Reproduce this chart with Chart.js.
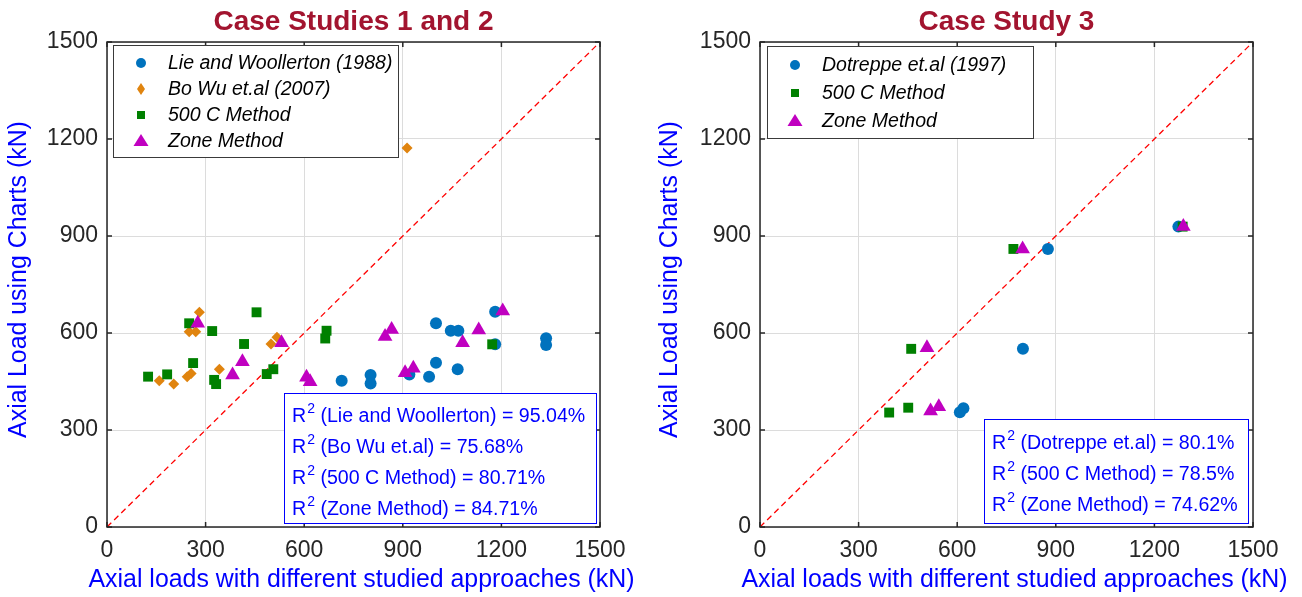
<!DOCTYPE html>
<html>
<head>
<meta charset="utf-8">
<script src="https://cdn.jsdelivr.net/npm/chart.js@4.4.1/dist/chart.umd.min.js"></script>
<style>
  html, body { margin: 0; padding: 0; background: #fff; }
  .panel { position: absolute; top: 0; width: 651px; height: 597px; }
</style>
</head>
<body>
<div class="panel" style="left:0"><canvas id="chartLeft" width="651" height="597"></canvas></div>
<div class="panel" style="left:651px"><canvas id="chartRight" width="651" height="597"></canvas></div>
<script>
// axis ticks (kN)
const tickValues = [0, 300, 600, 900, 1200, 1500];

// Case Studies 1 and 2
const lieX  = [714, 802, 802, 920, 980, 1001, 1001, 1046, 1069, 1067, 1181, 1181, 1336, 1336];
const lieY  = [452, 470, 444, 472, 465, 630, 508, 607, 607, 488, 666, 565, 584, 563];
const boWuX = [281, 250, 270, 499, 517, 159, 203, 244, 256, 342, 913];
const boWuY = [664, 604, 604, 566, 587, 452, 442, 465, 475, 488, 1172];
const c500X1 = [250, 320, 455, 417, 668, 664, 125, 183, 262, 326, 332, 486, 506, 1172];
const c500Y1 = [630, 606, 664, 566, 607, 583, 465, 472, 507, 455, 442, 473, 488, 565];
const zoneX1 = [276, 531, 382, 412, 607, 618, 866, 846, 1131, 1204, 1082, 907, 932];
const zoneY1 = [630, 570, 470, 511, 463, 449, 611, 589, 609, 668, 570, 477, 491];

// Case Study 3
const dotX   = [1273, 876, 800, 608, 619];
const dotY   = [929, 860, 551, 355, 367];
const c500X3 = [1286, 771, 460, 393, 451];
const c500Y3 = [929, 860, 551, 354, 369];
const zoneX3 = [1288, 799, 508, 519, 544];
const zoneY3 = [929, 860, 554, 359, 372];

const r2Names1  = ['Lie and Woollerton', 'Bo Wu et.al', '500 C Method', 'Zone Method'];
const r2Values1 = ['95.04%', '75.68%', '80.71%', '84.71%'];
const r2Names3  = ['Dotreppe et.al', '500 C Method', 'Zone Method'];
const r2Values3 = ['80.1%', '78.5%', '74.62%'];

const xTitle = 'Axial loads with different studied approaches (kN)';
const yTitle = 'Axial Load using Charts (kN)';

const FONT = '"Liberation Sans", Arial, sans-serif';
Chart.defaults.font.family = FONT;

const BLUE = '#0072BD', ORANGE = '#E0840F', GREEN = '#008000', MAGENTA = '#C000C0';

const toPts = (xs, ys) => xs.map((x, i) => ({ x, y: ys[i] }));

function series(label, xs, ys, color, style, radius, order) {
  return {
    label, data: toPts(xs, ys), pointStyle: style, pointRadius: radius,
    backgroundColor: color, borderColor: color, borderWidth: 0,
    showLine: false, order
  };
}

function diagonal() {
  return {
    label: 'y = x', data: [{ x: 0, y: 0 }, { x: 1500, y: 1500 }],
    showLine: true, borderColor: '#ff0000', borderWidth: 1.3, borderDash: [6, 4],
    pointRadius: 0, order: 10
  };
}

function drawMarker(ctx, style, color, x, y) {
  ctx.fillStyle = color;
  ctx.beginPath();
  if (style === 'circle') ctx.arc(x, y, 5, 0, Math.PI * 2);
  else if (style === 'diamond') { ctx.moveTo(x, y - 6); ctx.lineTo(x + 4, y); ctx.lineTo(x, y + 6); ctx.lineTo(x - 4, y); }
  else if (style === 'square') ctx.rect(x - 4, y - 4, 8, 8);
  else if (style === 'triangle') { ctx.moveTo(x, y - 7); ctx.lineTo(x + 7.5, y + 5); ctx.lineTo(x - 7.5, y + 5); }
  ctx.closePath();
  ctx.fill();
}

const decorPlugin = {
  id: 'decor',
  afterDatasetsDraw(chart, args, opts) {
    const { ctx, chartArea: a, scales: { x, y } } = chart;
    ctx.save();
    ctx.strokeStyle = '#262626';
    ctx.lineWidth = 1.5;
    ctx.strokeRect(a.left, a.top, a.right - a.left, a.bottom - a.top);
    ctx.beginPath();
    tickValues.forEach(v => {
      const px = x.getPixelForValue(v), py = y.getPixelForValue(v);
      ctx.moveTo(px, a.bottom); ctx.lineTo(px, a.bottom - 5);
      ctx.moveTo(px, a.top); ctx.lineTo(px, a.top + 5);
      ctx.moveTo(a.left, py); ctx.lineTo(a.left + 5, py);
      ctx.moveTo(a.right, py); ctx.lineTo(a.right - 5, py);
    });
    ctx.stroke();
    ctx.restore();
  },
  afterDraw(chart, args, opts) {
    const { ctx, chartArea: a } = chart;
    const midX = (a.left + a.right) / 2, midY = (a.top + a.bottom) / 2;
    ctx.save();
    // title
    ctx.fillStyle = '#A2142F';
    ctx.font = 'bold 28px ' + FONT;
    ctx.textAlign = 'center';
    ctx.textBaseline = 'alphabetic';
    ctx.fillText(opts.title, midX, 30);

    // axis titles (drawn here so they are not squeezed to the axis length)
    ctx.fillStyle = '#0000ff';
    ctx.font = '24.9px ' + FONT;
    ctx.fillText(xTitle, midX + 8, 587);
    ctx.save();
    ctx.translate(26, midY - 5);
    ctx.rotate(-Math.PI / 2);
    ctx.fillText(yTitle, 0, 0);
    ctx.restore();

    // legend
    const lg = opts.legend;
    ctx.textBaseline = 'middle';
    ctx.fillStyle = '#fff';
    ctx.fillRect(lg.x, lg.y, lg.w, lg.h);
    ctx.strokeStyle = '#3a3a3a';
    ctx.lineWidth = 1;
    ctx.strokeRect(lg.x + 0.5, lg.y + 0.5, lg.w, lg.h);
    ctx.font = 'italic 19.5px ' + FONT;
    ctx.textAlign = 'left';
    lg.items.forEach((it, i) => {
      const cy = lg.y + lg.first + i * lg.step;
      drawMarker(ctx, it.style, it.color, lg.x + 28, cy);
      ctx.fillStyle = '#000';
      ctx.fillText(it.label, lg.x + 55, cy + 1);
    });

    // R^2 box
    const rb = opts.r2;
    ctx.fillStyle = '#fff';
    ctx.fillRect(rb.x, rb.y, rb.w, rb.h);
    ctx.strokeStyle = '#0000ff';
    ctx.strokeRect(rb.x + 0.5, rb.y + 0.5, rb.w, rb.h);
    ctx.fillStyle = '#0000ff';
    rb.names.forEach((name, i) => {
      const cy = rb.y + rb.first + i * rb.step;
      let tx = rb.x + 8;
      ctx.font = '19.6px ' + FONT;
      ctx.fillText('R', tx, cy);
      tx += ctx.measureText('R').width + 1;
      ctx.font = '14px ' + FONT;
      ctx.fillText('2', tx, cy - 8);
      tx += ctx.measureText('2').width;
      ctx.font = '19.6px ' + FONT;
      ctx.fillText(' (' + name + ') = ' + rb.values[i], tx, cy);
    });
    ctx.restore();
  }
};

function axis(horizontal, size) {
  return {
    type: 'linear', min: 0, max: 1500,
    afterBuildTicks: s => { s.ticks = tickValues.map(v => ({ value: v })); },
    afterFit: s => { if (horizontal) s.height = 70; else s.width = size; },
    grid: { color: '#dcdcdc', lineWidth: 1, drawTicks: false },
    border: { display: false },
    ticks: {
      color: '#262626', font: { size: 23 }, padding: horizontal ? 10 : 9,
      maxRotation: 0, autoSkip: false, callback: v => String(v)
    },
    title: { display: false }
  };
}

function build(id, leftW, rightPad, datasets, decor) {
  return new Chart(document.getElementById(id), {
    type: 'scatter',
    data: { datasets },
    options: {
      responsive: false,
      animation: false,
      layout: { padding: { top: 42, right: rightPad, left: 0, bottom: 0 } },
      plugins: { legend: { display: false }, tooltip: { enabled: false }, title: { display: false }, decor },
      scales: { x: axis(true), y: axis(false, leftW) }
    },
    plugins: [decorPlugin]
  });
}

build('chartLeft', 107, 51, [
  series('Lie and Woollerton (1988)', lieX, lieY, BLUE, 'circle', 6, 3),
  series('Bo Wu et.al (2007)', boWuX, boWuY, ORANGE, 'rectRot', 5.5, 2),
  series('500 C Method', c500X1, c500Y1, GREEN, 'rect', 7, 1),
  series('Zone Method', zoneX1, zoneY1, MAGENTA, 'triangle', 8.5, 0),
  diagonal()
], {
  title: 'Case Studies 1 and 2',
  legend: {
    x: 113, y: 45, w: 285, h: 112, first: 18, step: 26,
    items: [
      { label: 'Lie and Woollerton (1988)', style: 'circle', color: BLUE },
      { label: 'Bo Wu et.al (2007)', style: 'diamond', color: ORANGE },
      { label: '500 C Method', style: 'square', color: GREEN },
      { label: 'Zone Method', style: 'triangle', color: MAGENTA }
    ]
  },
  r2: { x: 284, y: 393, w: 312, h: 130, first: 24, step: 31, names: r2Names1, values: r2Values1 }
});

build('chartRight', 109, 49, [
  series('Dotreppe et.al (1997)', dotX, dotY, BLUE, 'circle', 6, 3),
  series('500 C Method', c500X3, c500Y3, GREEN, 'rect', 7, 1),
  series('Zone Method', zoneX3, zoneY3, MAGENTA, 'triangle', 8.5, 0),
  diagonal()
], {
  title: 'Case Study 3',
  legend: {
    x: 116, y: 46, w: 266, h: 92, first: 19, step: 28,
    items: [
      { label: 'Dotreppe et.al (1997)', style: 'circle', color: BLUE },
      { label: '500 C Method', style: 'square', color: GREEN },
      { label: 'Zone Method', style: 'triangle', color: MAGENTA }
    ]
  },
  r2: { x: 333, y: 419, w: 264, h: 104, first: 25, step: 31, names: r2Names3, values: r2Values3 }
});
</script>
</body>
</html>
